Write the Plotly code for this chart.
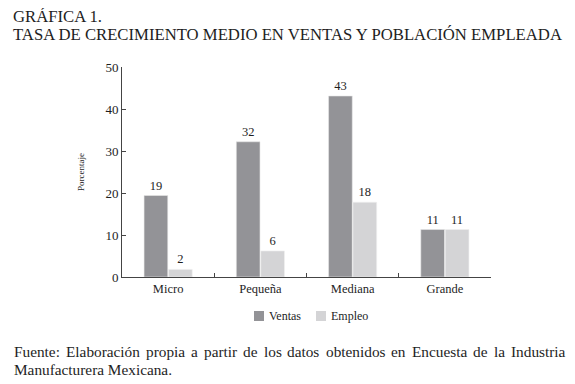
import plotly.graph_objects as go

categorias = ["Micro", "Pequeña", "Mediana", "Grande"]
ventas = [19.4, 32.2, 43.1, 11.3]
empleo = [1.8, 6.2, 17.8, 11.3]
ventas_txt = ["19", "32", "43", "11"]
empleo_txt = ["2", "6", "18", "11"]
y_ticks = [0, 10, 20, 30, 40, 50]
series_nombres = ["Ventas", "Empleo"]

titulo1 = "GRÁFICA 1."
titulo2 = "TASA DE CRECIMIENTO MEDIO EN VENTAS Y POBLACIÓN EMPLEADA"
fuente1 = "Fuente: Elaboración propia a partir de los datos obtenidos en Encuesta de la Industria"
fuente2 = "Manufacturera Mexicana."

FONT = "Times New Roman"
C_VENTAS = "#939397"
C_EMPLEO = "#d4d4d6"
TXT = "#1e1e1e"

# Page has an 8px body margin; figure is sized to fill the rest of the window.
W, H = 567, 376
L, R, T, B = 114, 84, 59, 107
PW, PH = W - L - R, H - T - B


def px(xpage):
    return (xpage - 8 - L) / PW


def py(ypage):
    return (H - B - (ypage - 8)) / PH


fig = go.Figure()
fig.add_trace(go.Bar(name=series_nombres[0], x=categorias, y=ventas, text=ventas_txt,
                     textposition="outside", marker=dict(color=C_VENTAS, line=dict(color="#e8e8e8", width=0.6)),
                     textfont=dict(family=FONT, size=12.5, color=TXT), cliponaxis=False))
fig.add_trace(go.Bar(name=series_nombres[1], x=categorias, y=empleo, text=empleo_txt,
                     textposition="outside", marker=dict(color=C_EMPLEO, line=dict(color="#f0f0f0", width=0.6)),
                     textfont=dict(family=FONT, size=12.5, color=TXT), cliponaxis=False))

fig.update_layout(
    width=W, height=H,
    margin=dict(l=L, r=R, t=T, b=B, autoexpand=False),
    paper_bgcolor="white", plot_bgcolor="white",
    barmode="group", bargap=0.47, bargroupgap=0.03,
    font=dict(family=FONT, size=12, color=TXT),
    showlegend=False,
    xaxis=dict(showline=True, linecolor="#444", linewidth=1, ticks="inside",
               ticklen=4, tickcolor="#444", tickson="boundaries",
               tickfont=dict(family=FONT, size=12.5, color=TXT), showgrid=False),
    yaxis=dict(range=[0, 50], tickvals=y_ticks, showline=True, linecolor="#444",
               linewidth=1, ticks="inside", ticklen=4, tickcolor="#444",
               showgrid=False, zeroline=False,
               tickfont=dict(family=FONT, size=13, color=TXT),
               title=dict(text="Porcentaje", font=dict(family=FONT, size=9, color=TXT), standoff=19)),
)

# Legend (compact, as in the reference)
for nombre, color, xs in zip(series_nombres, [C_VENTAS, C_EMPLEO], [254, 316]):
    fig.add_shape(type="rect", xref="paper", yref="paper", x0=px(xs), x1=px(xs + 10),
                  y0=py(321), y1=py(311), fillcolor=color, line=dict(width=0))
    fig.add_annotation(text=nombre, xref="paper", yref="paper", x=px(xs + 13), y=py(316),
                       xanchor="left", yanchor="middle", showarrow=False,
                       font=dict(family=FONT, size=12, color=TXT))

TSIZE = 16.7
fig.add_annotation(text=titulo1, xref="paper", yref="paper", x=px(11), y=py(16.5),
                   xanchor="left", yanchor="middle", showarrow=False,
                   font=dict(family=FONT, size=TSIZE, color=TXT))
fig.add_annotation(text=titulo2, xref="paper", yref="paper", x=px(11), y=py(34.5),
                   xanchor="left", yanchor="middle", showarrow=False,
                   font=dict(family=FONT, size=TSIZE, color=TXT))

# Justified first footer line: distribute words between x=12 and x=563 using Times metrics
TIMES = {
    'a': 444, 'b': 500, 'c': 444, 'd': 500, 'e': 444, 'f': 333, 'g': 500, 'h': 500, 'i': 278,
    'j': 278, 'k': 500, 'l': 278, 'm': 778, 'n': 500, 'o': 500, 'p': 500, 'q': 500, 'r': 333,
    's': 389, 't': 278, 'u': 500, 'v': 500, 'w': 722, 'x': 500, 'y': 500, 'z': 444, 'ó': 500,
    'E': 611, 'F': 556, 'I': 333, 'M': 889, ':': 278, '.': 250,
}
FSIZE = 15.3
words = fuente1.split(" ")
widths = [sum(TIMES.get(ch, 500) for ch in w) / 1000 * FSIZE for w in words]
x_left, x_right = 12, 563
gap = (x_right - x_left - sum(widths)) / (len(words) - 1)
xcur = x_left
for w, wd in zip(words, widths):
    fig.add_annotation(text=w, xref="paper", yref="paper", x=px(xcur), y=py(351),
                       xanchor="left", yanchor="middle", showarrow=False,
                       font=dict(family=FONT, size=FSIZE, color=TXT))
    xcur += wd + gap
fig.add_annotation(text=fuente2, xref="paper", yref="paper", x=px(12), y=py(369),
                   xanchor="left", yanchor="middle", showarrow=False,
                   font=dict(family=FONT, size=FSIZE, color=TXT))

fig.write_html("out.html")
